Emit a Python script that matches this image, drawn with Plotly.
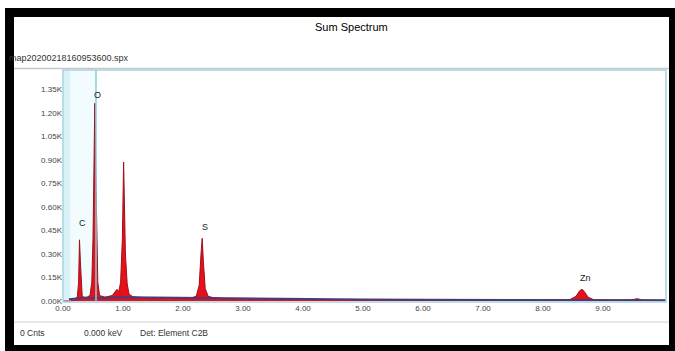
import plotly.graph_objects as go

W, H = 675, 351

# ---- data ----
energy_kev = [0.00, 0.12, 0.20, 0.24, 0.26, 0.275, 0.29, 0.305, 0.32, 0.35, 0.40,
              0.45, 0.48, 0.50, 0.515, 0.53, 0.545, 0.56, 0.58, 0.61, 0.70,
              0.82, 0.88, 0.90, 0.93, 0.96, 0.99, 1.01, 1.025, 1.04, 1.07, 1.10, 1.16, 1.25,
              1.5, 1.8, 2.1, 2.22, 2.27, 2.30, 2.32, 2.34, 2.37, 2.42, 2.50, 2.7,
              3.0, 4.0, 5.0, 6.0, 7.0, 8.0, 8.45, 8.55, 8.61, 8.65, 8.69, 8.75, 8.85,
              9.3, 9.48, 9.57, 9.66, 9.9, 10.05]
counts_k = [0.000, 0.000, 0.010, 0.030, 0.120, 0.390, 0.250, 0.080, 0.030, 0.025, 0.025,
            0.035, 0.120, 0.400, 0.850, 1.260, 0.850, 0.400, 0.120, 0.035, 0.025,
            0.035, 0.070, 0.075, 0.060, 0.120, 0.400, 0.885, 0.600, 0.300, 0.110, 0.045, 0.028, 0.024,
            0.020, 0.018, 0.016, 0.030, 0.100, 0.300, 0.400, 0.250, 0.080, 0.030, 0.022, 0.015,
            0.012, 0.010, 0.008, 0.007, 0.007, 0.007, 0.010, 0.030, 0.065, 0.076, 0.060, 0.025, 0.008,
            0.006, 0.008, 0.015, 0.007, 0.005, 0.005]

bg_energy = [0.10, 0.30, 0.60, 1.00, 1.50, 2.00, 2.50, 3.00, 4.00, 5.00, 6.00, 7.00, 8.00, 9.00, 10.05]
bg_counts = [0.012, 0.020, 0.020, 0.025, 0.022, 0.020, 0.018, 0.015, 0.012, 0.010, 0.008, 0.007, 0.006, 0.006, 0.005]

element_labels = ["C", "O", "S", "Zn"]
element_x = [0.32, 0.57, 2.36, 8.70]
element_y = [0.50, 1.31, 0.47, 0.145]

x_ticks = [0, 1, 2, 3, 4, 5, 6, 7, 8, 9]
x_tick_text = ["0.00", "1.00", "2.00", "3.00", "4.00", "5.00", "6.00", "7.00", "8.00", "9.00"]
y_ticks = [0.00, 0.15, 0.30, 0.45, 0.60, 0.75, 0.90, 1.05, 1.20, 1.35]
y_tick_text = ["0.00K", "0.15K", "0.30K", "0.45K", "0.60K", "0.75K", "0.90K", "1.05K", "1.20K", "1.35K"]

title_text = "Sum Spectrum"
file_text = "map20200218160953600.spx"
status_texts = ["0 Cnts", "0.000 keV", "Det: Element C2B"]

# ---- layout geometry (pixels) ----
PL, PR, PT, PB = 63, 666, 70, 302


def px(x):
    return x / W


def py(y):
    return 1 - y / H


fig = go.Figure()

fig.add_trace(go.Scatter(
    x=energy_kev, y=counts_k, mode="lines", fill="tozeroy",
    fillcolor="#e6101a", line=dict(color="#a0101c", width=1),
    hoverinfo="skip", showlegend=False))

fig.add_trace(go.Scatter(
    x=bg_energy, y=bg_counts, mode="lines",
    line=dict(color="#4a3a78", width=2),
    hoverinfo="skip", showlegend=False))

for lab, xv, yv in zip(element_labels, element_x, element_y):
    fig.add_annotation(x=xv, y=yv, text=lab, showarrow=False,
                       font=dict(family="Liberation Sans", size=9, color="#222"))

shapes = []
shapes.append(dict(type="rect", xref="x", yref="paper", x0=0, x1=0.12,
                   y0=py(PB), y1=py(PT), fillcolor="#d8f2f8", line=dict(width=0), layer="below"))
shapes.append(dict(type="rect", xref="x", yref="paper", x0=0.12, x1=0.55,
                   y0=py(PB), y1=py(PT), fillcolor="#f2fbfd", line=dict(width=0), layer="below"))
shapes.append(dict(type="line", xref="x", yref="paper", x0=0.55, x1=0.55,
                   y0=py(PB), y1=py(PT), line=dict(color="#7fd0dc", width=1.5)))
shapes.append(dict(type="rect", xref="paper", yref="paper", x0=px(PL), x1=px(PR),
                   y0=py(PB), y1=py(PT), line=dict(color="#a8d4e0", width=1.5)))
shapes.append(dict(type="line", xref="paper", yref="paper", x0=px(14), x1=px(669),
                   y0=py(68.5), y1=py(68.5), line=dict(color="#c4c8cc", width=1.5)))
shapes.append(dict(type="line", xref="paper", yref="paper", x0=px(14), x1=px(669),
                   y0=py(322), y1=py(322), line=dict(color="#d0d0d0", width=1)))
for x0, y0, x1, y1 in [(5, 8, 675, 17), (5, 8, 14, 351), (669, 8, 675, 351), (5, 345, 675, 351)]:
    shapes.append(dict(type="rect", xref="paper", yref="paper", x0=px(x0), x1=px(x1),
                       y0=py(y1), y1=py(y0), fillcolor="#000", line=dict(width=0)))
fig.update_layout(shapes=shapes)

fig.add_annotation(xref="paper", yref="paper", x=px(351), y=py(27), text=title_text,
                   xanchor="center", yanchor="middle", showarrow=False,
                   font=dict(family="Liberation Sans", size=11, color="#000"))
fig.add_annotation(xref="paper", yref="paper", x=px(7), y=py(58), xanchor="left", yanchor="middle",
                   text=file_text, showarrow=False,
                   font=dict(family="Liberation Sans", size=9, color="#333"))
for t, xx in zip(status_texts, [18, 82, 138]):
    fig.add_annotation(xref="paper", yref="paper", x=px(xx), y=py(333), xanchor="left", yanchor="middle",
                       text=t, showarrow=False,
                       font=dict(family="Liberation Sans", size=8.5, color="#333"))

fig.update_layout(
    width=W, height=H,
    margin=dict(l=0, r=0, t=0, b=0, pad=0),
    paper_bgcolor="white", plot_bgcolor="white",
    xaxis=dict(domain=[px(PL), px(PR)], range=[0, 10.05], tickvals=x_ticks, ticktext=x_tick_text,
               showgrid=False, zeroline=False, showline=False, ticks="", ticklen=0,
               automargin=False,
               tickfont=dict(family="Liberation Sans", size=8, color="#444")),
    yaxis=dict(domain=[py(PB), py(PT)], range=[-0.006, 1.472], tickvals=y_ticks, ticktext=y_tick_text,
               showgrid=False, zeroline=False, showline=False, ticks="", automargin=False,
               tickfont=dict(family="Liberation Sans", size=8, color="#444")),
)

fig.write_html("out.html", config={"displayModeBar": False},
               post_script="document.body.style.margin='0px';document.body.style.padding='0px';")
